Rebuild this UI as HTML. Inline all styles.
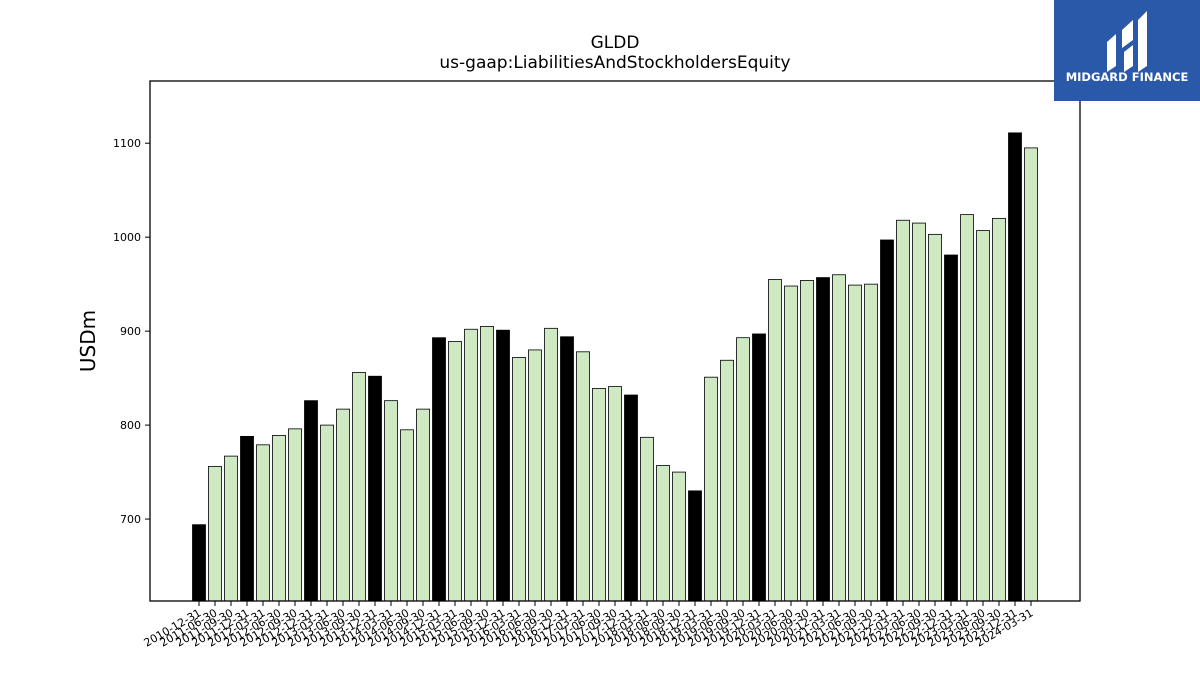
<!DOCTYPE html>
<html><head><meta charset="utf-8"><style>
body{margin:0;background:#fff;width:1200px;height:675px;overflow:hidden;font-family:"Liberation Sans","DejaVu Sans",sans-serif}
</style></head><body>
<svg id="chart" width="1200" height="675" xmlns="http://www.w3.org/2000/svg" font-family="DejaVu Sans, Liberation Sans, sans-serif">
<text x="615" y="48" text-anchor="middle" font-size="17">GLDD</text>
<text x="615" y="68" text-anchor="middle" font-size="17">us-gaap:LiabilitiesAndStockholdersEquity</text>
<text transform="translate(95,341) rotate(-90)" text-anchor="middle" font-size="20">USDm</text>
<g id="bars"></g><g id="yticks"></g><g id="xticks"></g>
<rect x="150" y="81" width="930" height="520" fill="none" stroke="#000" stroke-width="1.3"/>
<g>
<rect x="1054" y="0" width="146" height="101" fill="#2b59aa"/>
<path d="M1107 42 L1116 34 L1116 66 L1107 72 Z M1122 30 L1133 20 L1133 40 L1122 48 Z M1124 52 L1133 45 L1133 66 L1124 72 Z M1138 20 L1147 11 L1147 66 L1138 72 Z" fill="#fff"/>
<text x="1127" y="81" text-anchor="middle" font-size="11.5" font-weight="bold" fill="#fff">MIDGARD FINANCE</text>
</g>
</svg>
<script>
const categories=["2010-12-31","2011-06-30","2011-09-30","2011-12-31","2012-03-31","2012-06-30","2012-09-30","2012-12-31","2013-03-31","2013-06-30","2013-09-30","2013-12-31","2014-03-31","2014-06-30","2014-09-30","2014-12-31","2015-03-31","2015-06-30","2015-09-30","2015-12-31","2016-03-31","2016-06-30","2016-09-30","2016-12-31","2017-03-31","2017-06-30","2017-09-30","2017-12-31","2018-03-31","2018-06-30","2018-09-30","2018-12-31","2019-03-31","2019-06-30","2019-09-30","2019-12-31","2020-03-31","2020-06-30","2020-09-30","2020-12-31","2021-03-31","2021-06-30","2021-09-30","2021-12-31","2022-03-31","2022-06-30","2022-09-30","2022-12-31","2023-03-31","2023-06-30","2023-09-30","2023-12-31","2024-03-31"];
const values=[694,756,767,788,779,789,796,826,800,817,856,852,826,795,817,893,889,902,905,901,872,880,903,894,878,839,841,832,787,757,750,730,851,869,893,897,955,948,954,957,960,949,950,997,1018,1015,1003,981,1024,1007,1020,1111,1095];
const yTicks=[700,800,900,1000,1100];
const NS="http://www.w3.org/2000/svg";
const yMin=612.8,yMax=1166.2,plotTop=81,plotBottom=601;
function yScale(v){return plotBottom-(v-yMin)/(yMax-yMin)*(plotBottom-plotTop);}
function xScale(i){return 199+i*(1031-199)/(categories.length-1);}
const bars=document.getElementById('bars'),yt=document.getElementById('yticks'),xt=document.getElementById('xticks');
categories.forEach((c,i)=>{
  const r=document.createElementNS(NS,'rect');
  
  
  const yy=yScale(values[i]);
  r.setAttribute('x',xScale(i)-6.5);r.setAttribute('width',13);
  r.setAttribute('y',yy);r.setAttribute('height',plotBottom-yy);
  r.setAttribute('fill',c.endsWith('12-31')?'#000':'#cdeac4');
  r.setAttribute('stroke','#000');r.setAttribute('stroke-width','0.8');
  bars.appendChild(r);
  const t=document.createElementNS(NS,'line');
  
  
  t.setAttribute('x1',xScale(i));t.setAttribute('x2',xScale(i));t.setAttribute('y1',601);t.setAttribute('y2',606);t.setAttribute('stroke','#000');
  xt.appendChild(t);
  const l=document.createElementNS(NS,'text');
  
  
  l.setAttribute('text-anchor','end');l.setAttribute('font-size','11');
  l.setAttribute('transform','translate('+(xScale(i)+3)+',615) rotate(-30)');
  l.textContent=c;xt.appendChild(l);
});
yTicks.forEach(v=>{
  const t=document.createElementNS(NS,'line');
  
  
  t.setAttribute('x1',145);t.setAttribute('x2',150);t.setAttribute('y1',yScale(v));t.setAttribute('y2',yScale(v));t.setAttribute('stroke','#000');
  yt.appendChild(t);
  const l=document.createElementNS(NS,'text');
  
  
  l.setAttribute('x',141);l.setAttribute('y',yScale(v)+4);l.setAttribute('text-anchor','end');l.setAttribute('font-size','11');
  l.textContent=v;yt.appendChild(l);
});
</script>
</body></html>
